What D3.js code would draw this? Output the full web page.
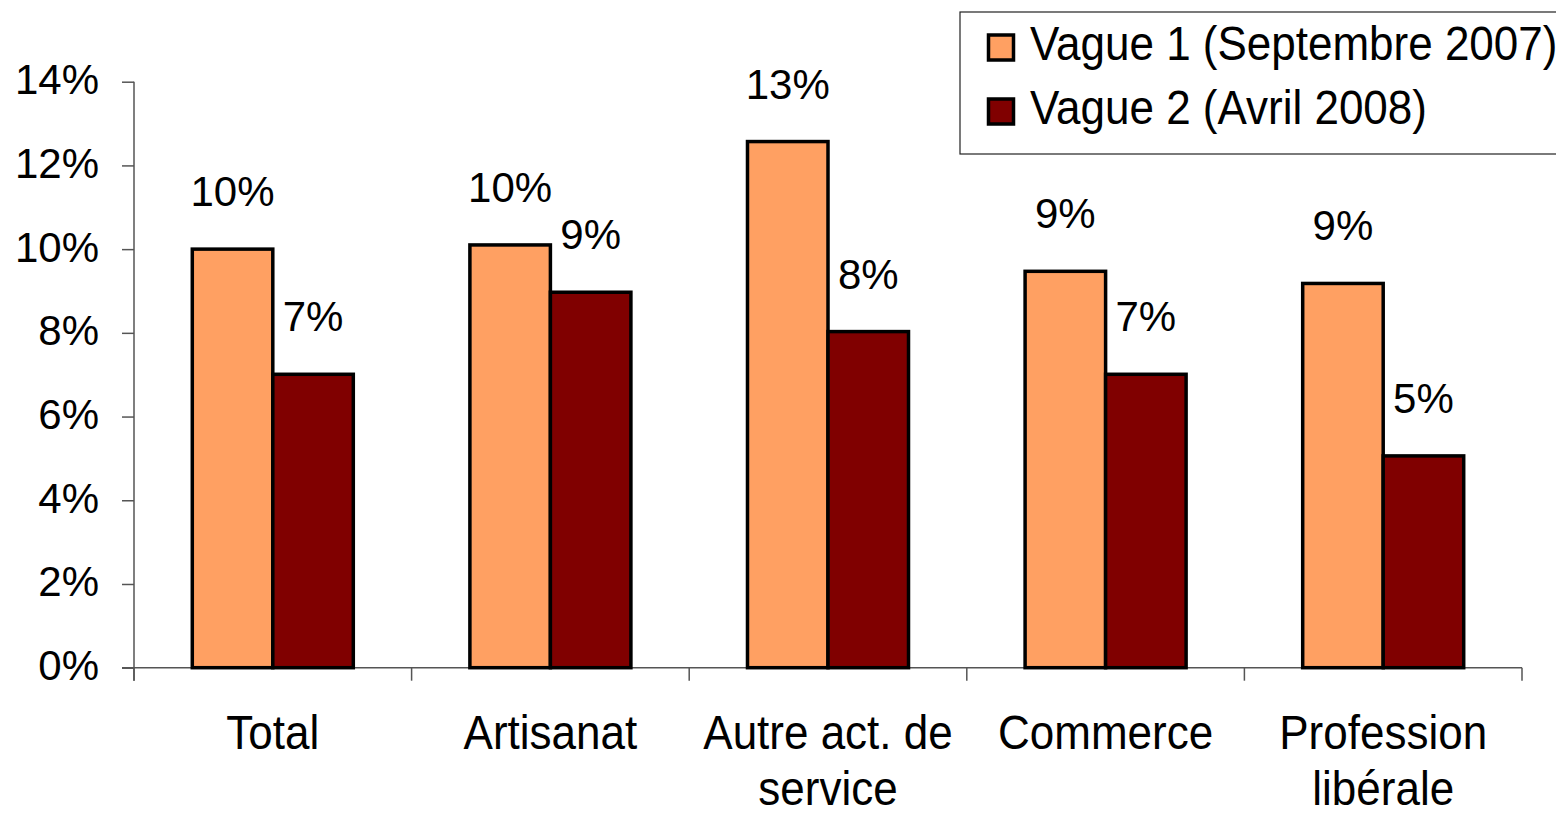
<!DOCTYPE html>
<html>
<head>
<meta charset="utf-8">
<script src="https://cdn.jsdelivr.net/npm/d3@7"></script>
<style>
  body { margin: 0; background: #fff; }
  text { font-family: Arial, "Liberation Sans", sans-serif; fill: #000; }
</style>
</head>
<body>
<div id="chart"></div>
<script>

// data
const categories = ["Total", "Artisanat", "Autre act. de|service", "Commerce", "Profession|libérale"];
const vague1 = [0.100, 0.101, 0.1257, 0.0947, 0.0918];
const vague2 = [0.0701, 0.0897, 0.0803, 0.0701, 0.0506];
const seriesNames = ["Vague 1 (Septembre 2007)", "Vague 2 (Avril 2008)"];
const seriesColors = ["#ffa062", "#800000"];
const yTicks = [0, 0.02, 0.04, 0.06, 0.08, 0.10, 0.12, 0.14];

function barChart(container) {

    let width = 1556, height = 817;
    let left = 134, right = 1522, top = 81.7, bottom = 667.7;

    let svg = d3.select(container).append("svg")
        .attr("width", width)
        .attr("height", height);

    let x = d3.scaleBand()
        .domain(categories)
        .range([left, right])
        .paddingInner(0.42)
        .paddingOuter(0.21);

    let xSub = d3.scaleBand()
        .domain([0, 1])
        .range([0, x.bandwidth()]);

    let y = d3.scaleLinear()
        .domain([0, 0.14])
        .range([bottom, top]);

    // Y axis
    let yAxis = svg.append("g")
        .attr("transform", "translate(" + left + ",0)")
        .call(d3.axisLeft(y)
            .tickValues(yTicks)
            .tickSize(12)
            .tickSizeOuter(0)
            .tickPadding(23)
            .tickFormat(d3.format(".0%")));
    yAxis.select(".domain").remove();
    yAxis.selectAll("line").attr("stroke", "#555").attr("stroke-width", 1.5);
    yAxis.selectAll("text")
        .attr("dy", null)
        .attr("y", 12)
        .style("font-size", "42px")
        .style("font-family", "Arial, 'Liberation Sans', sans-serif");

    // axis lines
    svg.append("line")
        .attr("x1", left).attr("x2", left)
        .attr("y1", top).attr("y2", bottom + 13)
        .attr("stroke", "#555").attr("stroke-width", 1.5);
    svg.append("line")
        .attr("x1", left - 12).attr("x2", right)
        .attr("y1", bottom).attr("y2", bottom)
        .attr("stroke", "#555").attr("stroke-width", 1.5);

    // category boundary ticks
    let bounds = d3.range(categories.length + 1).map(i => left + i * x.step());
    svg.selectAll(".xtick")
        .data(bounds)
        .enter()
        .append("line")
        .attr("x1", d => d).attr("x2", d => d)
        .attr("y1", bottom).attr("y2", bottom + 13)
        .attr("stroke", "#555").attr("stroke-width", 1.5);

    // bars
    let rows = [];
    categories.forEach((c, i) => {
        rows.push({cat: c, s: 0, v: vague1[i]});
        rows.push({cat: c, s: 1, v: vague2[i]});
    });

    let fmt = d3.format(".0%");

    svg.selectAll(".bar")
        .data(rows)
        .enter()
        .append("rect")
        .attr("x", d => x(d.cat) + xSub(d.s))
        .attr("y", d => y(d.v))
        .attr("width", xSub.bandwidth())
        .attr("height", d => y(0) - y(d.v))
        .attr("fill", d => seriesColors[d.s])
        .attr("stroke", "#000")
        .attr("stroke-width", 3.5);

    svg.selectAll(".val")
        .data(rows)
        .enter()
        .append("text")
        .attr("x", d => x(d.cat) + xSub(d.s) + xSub.bandwidth() / 2)
        .attr("y", d => y(d.v) - 43)
        .attr("text-anchor", "middle")
        .style("font-size", "42px")
        .text(d => fmt(d.v));

    // category labels
    let lab = svg.selectAll(".cat")
        .data(categories)
        .enter()
        .append("text")
        .attr("text-anchor", "middle")
        .style("font-size", "44px")
        .attr("transform", d => "translate(" + (x(d) + x.bandwidth() / 2) + ",749) scale(1,1.08)");
    lab.selectAll("tspan")
        .data(d => d.split("|"))
        .enter()
        .append("tspan")
        .attr("x", 0)
        .attr("y", (d, i) => i * 51.5)
        .text(d => d);

    // legend
    let legend = svg.append("g");
    legend.append("rect")
        .attr("x", 960).attr("y", 12)
        .attr("width", 620).attr("height", 142)
        .attr("fill", "#fff")
        .attr("stroke", "#222").attr("stroke-width", 1.2);

    let item = legend.selectAll(".item")
        .data(seriesNames)
        .enter()
        .append("g")
        .attr("transform", (d, i) => "translate(0," + (i * 64) + ")");
    item.append("rect")
        .attr("x", 988.5).attr("y", 35)
        .attr("width", 25).attr("height", 25)
        .attr("fill", (d, i) => seriesColors[i])
        .attr("stroke", "#000").attr("stroke-width", 3.5);
    item.append("text")
        .attr("transform", "translate(1030,60) scale(1,1.08)")
        .style("font-size", "44px")
        .text(d => d);
}

barChart("#chart");
</script>
</body>
</html>
